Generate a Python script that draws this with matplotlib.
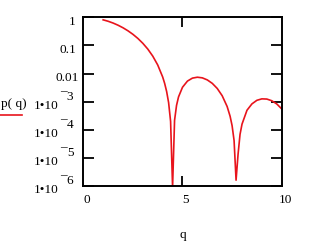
import matplotlib.pyplot as plt
from matplotlib.lines import Line2D

plt.rcParams['font.family'] = 'Liberation Serif'

# values
q = [1.0, 1.25, 1.5, 1.75, 2.0, 2.25, 2.5, 2.75, 3.0, 3.25, 3.5, 3.75,
     4.0, 4.1, 4.2, 4.3, 4.4, 4.5, 4.6, 4.7, 4.8, 5.0, 5.25, 5.5, 5.75,
     6.0, 6.25, 6.5, 6.75, 7.0, 7.25, 7.4, 7.5, 7.6, 7.7, 7.8, 7.9, 8.0,
     8.25, 8.5, 8.75, 9.0, 9.25, 9.5, 9.75, 10.0]
p = [0.816, 0.727, 0.628, 0.526, 0.4265, 0.333, 0.2495, 0.178, 0.1195, 0.0745,
     0.0419, 0.0203, 7.58e-3, 4.49e-3, 2.31e-3, 9.28e-4, 1.99e-4, 9.1e-7,
     2.17e-4, 7.4e-4, 1.48e-3, 3.26e-3, 5.41e-3, 6.89e-3, 7.42e-3, 7.04e-3,
     5.95e-3, 4.49e-3, 2.96e-3, 1.63e-3, 6.73e-4, 3.02e-4, 1.40e-4, 4.14e-5,
     1.61e-6, 1.33e-5, 6.87e-5, 1.59e-4, 4.95e-4, 8.35e-4, 1.12e-3, 1.26e-3,
     1.24e-3, 1.08e-3, 8.33e-4, 5.54e-4]

yticks = [1, 0.1, 0.01, 1e-3, 1e-4, 1e-5, 1e-6]
ylabels = ['1', '0.1', '0.01', '1•10', '1•10', '1•10', '1•10']
yexps = ['', '', '', '3', '4', '5', '6']
xticks = [0, 5, 10]
xlabels = ['0', '5', '10']

red = '#e8141c'
fs = 9.5

fig = plt.figure(figsize=(3.34, 2.48), dpi=100)
ax = fig.add_axes([0.2494, 0.25, 0.594, 0.68])
ax.plot(q, p, color=red, lw=1.2)
ax.set_yscale('log')
ax.set_xlim(0, 10)
ax.set_ylim(1e-6, 1)
ax.minorticks_off()
ax.set_yticks(yticks)
ax.set_yticklabels([])
ax.set_xticks([5])
ax.set_xticklabels([])
ax.tick_params(axis='y', direction='in', length=8, width=1.3,
               left=True, right=True)
ax.tick_params(axis='x', direction='in', length=7, width=1.3,
               bottom=True, top=True)
for s in ax.spines.values():
    s.set_linewidth(1.4)


def lab(txt, xy, tr, off, ha='right'):
    ax.annotate(txt, xy, xycoords=tr, xytext=off, textcoords='offset pixels',
                ha=ha, va='baseline', fontsize=fs)


# y tick labels, Mathcad style: hanging under the tick, raised exponent
ytr = ax.get_yaxis_transform()
for yt, txt, ex in zip(yticks, ylabels, yexps):
    if ex:
        lab(txt, (0, yt), ytr, (-25, -7))
        lab(ex, (0, yt), ytr, (-10, 2))
        lab('–', (0, yt), ytr, (-16.5, 7.5))
    else:
        dx = -4 if txt == '0.01' else -7.5
        lab(txt, (0, yt), ytr, (dx, -7.7))

xtr = ax.get_xaxis_transform()
for xt, txt in zip(xticks, xlabels):
    lab(txt, (xt, 0), xtr, (3.5, -17), ha='center')

fig.text(182.5 / 334, 1 - 238 / 248, 'q', ha='center', va='baseline', fontsize=fs)
fig.text(0.002, 1 - 107 / 248, 'p( q)', ha='left', va='baseline', fontsize=fs)
fig.add_artist(Line2D([0.0, 22 / 334], [1 - 115 / 248, 1 - 115 / 248],
                      color=red, lw=1.2))

fig.savefig('out.png', dpi=100)
